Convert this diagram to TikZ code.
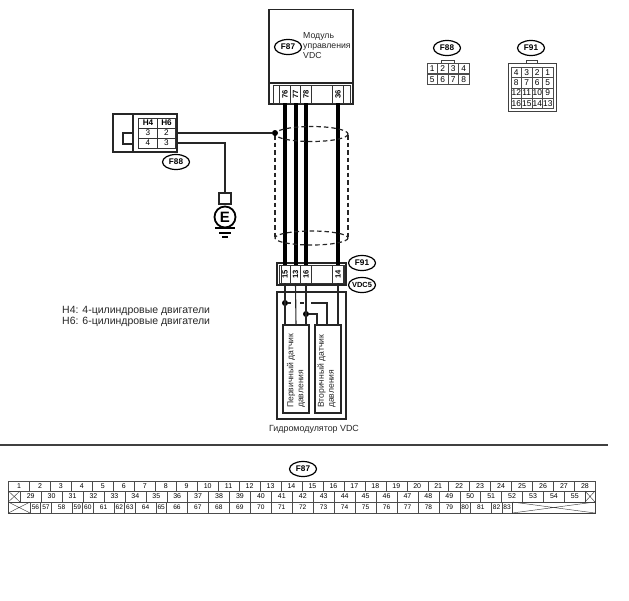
\documentclass[tikz,border=0pt]{standalone}
\usepackage{fontspec}
\setmainfont{Liberation Sans}
\usetikzlibrary{shapes.geometric,calc}
\tikzset{
  x=1pt,y=-1pt,
  boxline/.style={draw=black!85,line width=1.1pt},
  oval/.style={ellipse,draw=black,line width=1.2pt,fill=white,inner sep=0pt,minimum width=27pt,minimum height=15pt,font=\fontsize{8.2}{9}\selectfont\bfseries},
  pinbox/.style={draw=black!80,line width=.6pt,minimum width=18pt,minimum height=10.5pt,inner sep=0pt,font=\fontsize{7.6}{8}\selectfont\bfseries,rotate=90},
  thickwire/.style={line width=4pt,black},
  thinwire/.style={line width=1.1pt,black!85},
  shield/.style={line width=1.2pt,dash pattern=on 4.5pt off 3pt,black!85},
  tcell/.style={draw=black!70,line width=.45pt,minimum height=10.5pt,inner sep=0pt,font=\fontsize{7}{8}\selectfont,anchor=west},
  gcell/.style={draw=black!70,line width=.45pt,minimum width=10.5pt,minimum height=10.25pt,inner sep=0pt,font=\fontsize{8.4}{9}\selectfont},
  hcell/.style={draw=black!80,line width=.6pt,minimum width=18.5pt,minimum height=10pt,inner sep=0pt,font=\fontsize{8.2}{9}\selectfont},
  txt/.style={inner sep=0pt,font=\fontsize{8.7}{10}\selectfont,text=black!85},
  dotn/.style={circle,fill=black,inner sep=0pt,minimum size=6pt},
}
\begin{document}
\begin{tikzpicture}
\useasboundingbox (0,0) rectangle (629,600);

% VDC module
\draw[boxline] (269,9.5) rectangle (353,104);
\draw[boxline] (269,83) -- (353,83);
\draw[line width=.6pt,black!80] (273,85) rectangle (350,103);
\node[oval] (f87a) at (288,47) {F87};
\node[txt,anchor=west,align=left] (modtxt) at (303,46) {Модуль\\управления\\VDC};
\node[pinbox] (p76) at (285,94) {76};
\node[pinbox] (p77) at (295.5,94) {77};
\node[pinbox] (p78) at (306,94) {78};
\node[pinbox] (p36) at (338,94) {36};

% F91 connector
\draw[boxline] (277,263) rectangle (346,285);
\draw[line width=.6pt,black!80] (281,265) rectangle (344,283);
\node[pinbox] (q15) at (285,274) {15};
\node[pinbox] (q13) at (295.5,274) {13};
\node[pinbox] (q16) at (306,274) {16};
\node[pinbox] (q14) at (338,274) {14};
\node[oval] (f91a) at (362,263) {F91};
\node[oval,inner xsep=-4pt,font=\fontsize{7.4}{8}\selectfont\bfseries] (vdc5) at (362,285) {VDC5};

% thick harness
\draw[thickwire] (p76.west) -- (q15.east);
\draw[thickwire] (p77.west) -- (q13.east);
\draw[thickwire] (p78.west) -- (q16.east);
\draw[thickwire] (p36.west) -- (q14.east);

% shield
\draw[shield] (311.5,134) ellipse [x radius=36.5,y radius=7.5];
\draw[shield] (311.5,238) ellipse [x radius=36.5,y radius=7];
\draw[shield] (275,135) -- (275,238);
\draw[shield] (348,135) -- (348,238);

% left connector
\draw[boxline] (113,114) rectangle (177,152);
\draw[boxline] (133,114) -- (133,152);
\draw[boxline] (123,133) rectangle (133,144);
\node[hcell,font=\fontsize{8.2}{9}\selectfont\bfseries] (h4) at (148,123) {H4};
\node[hcell,font=\fontsize{8.2}{9}\selectfont\bfseries] (h6) at (166.5,123) {H6};
\node[hcell] (c3a) at (148,133) {3};
\node[hcell] (c2) at (166.5,133) {2};
\node[hcell] (c4) at (148,143) {4};
\node[hcell] (c3b) at (166.5,143) {3};
\node[oval] (f88a) at (176,162) {F88};

% ground
\node[dotn] (sdot) at (275,133) {};
\draw[line width=1.3pt,black!85] (c2.east) -- (sdot);
\node[draw=black!85,line width=1.2pt,minimum width=12pt,minimum height=11pt,inner sep=0pt] (gbox) at (225,198.5) {};
\node[circle,draw=black,line width=1.8pt,minimum size=21pt,inner sep=0pt,font=\fontsize{15}{15}\selectfont\bfseries] (gnd) at (225,217) {E};
\draw[line width=1.3pt,black!85] (c3b.east) -| (gbox.north);
\draw[line width=1.1pt,black] (215,228) -- (235,228);
\draw[line width=1.1pt,black] (219,233) -- (231,233);
\draw[line width=1.1pt,black] (222,237) -- (228,237);

% hydromodulator
\draw[boxline] (277,292) rectangle (346,419);
\node[boxline,minimum width=26pt,minimum height=88pt,inner sep=0pt] (s1) at (296,369) {};
\node[boxline,minimum width=26pt,minimum height=88pt,inner sep=0pt] (s2) at (328,369) {};
\node[txt,rotate=90,anchor=west,align=left,font=\fontsize{8.6}{10}\selectfont] (s1t) at (296,408) {Первичный датчик\\давления};
\node[txt,rotate=90,anchor=west,align=left,font=\fontsize{8.6}{10}\selectfont] (s2t) at (326.5,408) {Вторичный датчик\\давления};
\node[txt,font=\fontsize{8.9}{10}\selectfont] (gidro) at (314,429) {Гидромодулятор VDC};

% sensor wires
\coordinate (s1a) at (285,325);
\coordinate (s1b) at (296,325);
\coordinate (s1c) at (306,325);
\coordinate (s2a) at (317,325);
\coordinate (s2b) at (327,325);
\coordinate (s2c) at (338,325);
\node[dotn] (d1) at (285,303) {};
\node[dotn] (d2) at (306,314) {};
\draw[thinwire] (q15.west) -- (s1a);
\draw[thinwire] (q13.west) -- (s1b);
\draw[thinwire] (q16.west) -- (s1c);
\draw[thinwire] (q14.west) -- (s2c);
\draw[thinwire] (d1) -- (291,303);
\draw[thinwire] (300,303) -- (304,303);
\draw[thinwire] (311,303) -| (s2b);
\draw[thinwire] (d2) -| (s2a);

% legend
\node[txt,anchor=west,font=\fontsize{10.5}{11}\selectfont,align=left] (legend) at (62,316) {H4: 4-цилиндровые двигатели\\H6: 6-цилиндровые двигатели};

% F88 right pinout
\node[oval] (f88b) at (447,48) {F88};
\draw[line width=.5pt,black!75] (441,63) -- (441,60.5) -- (454,60.5) -- (454,63);
\foreach \t [count=\i from 0] in {1,2,3,4}
  \node[gcell] (a\t) at ({432.25+10.5*\i},68.5) {\t};
\foreach \t [count=\i from 0] in {5,6,7,8}
  \node[gcell] (a\t) at ({432.25+10.5*\i},79.5) {\t};

% F91 right pinout
\node[oval] (f91b) at (531,48) {F91};
\draw[line width=.5pt,black!75] (526,63) -- (526,60.5) -- (537,60.5) -- (537,63);
\draw[line width=.6pt,black!75] (508,63) rectangle (556,111);
\foreach \t [count=\i from 0] in {4,3,2,1}
  \node[gcell] (b\t) at ({516.25+10.5*\i},72.5) {\t};
\foreach \t [count=\i from 0] in {8,7,6,5}
  \node[gcell] (b\t) at ({516.25+10.5*\i},82.75) {\t};
\foreach \t [count=\i from 0] in {12,11,10,9}
  \node[gcell] (b\t) at ({516.25+10.5*\i},93) {\t};
\foreach \t [count=\i from 0] in {16,15,14,13}
  \node[gcell] (b\t) at ({516.25+10.5*\i},103.25) {\t};

% separator
\draw[line width=1.4pt,black!75] (0,445) -- (608,445);

% F87 table
\node[oval] (f87b) at (303,469) {F87};
\foreach \n in {1,...,28}
  \node[tcell,minimum width=20.96pt] (r\n) at ({8.3+20.96*(\n-1)},486) {\n};
\draw[line width=.45pt,black!75] (8.3,491) rectangle (20,502);
\draw[line width=.45pt,black!75] (8.3,491) -- (20,502) (8.3,502) -- (20,491);
\foreach \n [count=\i from 0] in {29,...,55}
  \node[tcell,minimum width=20.93pt] (r\n) at ({20+20.93*\i},496.5) {\n};
\draw[line width=.45pt,black!75] (585,491) rectangle (595,502);
\draw[line width=.45pt,black!75] (585,491) -- (595,502) (585,502) -- (595,491);
\draw[line width=.45pt,black!75] (8.3,502) rectangle (30,513);
\draw[line width=.45pt,black!75] (8.3,502) -- (30,513) (8.3,513) -- (30,502);
\newdimen\xc
\xc=30pt
\foreach \n/\w in {56/10.48,57/10.48,58/20.96,59/10.48,60/10.48,61/20.96,62/10.48,63/10.48,64/20.96,65/10.48,66/20.96,
  67/20.96,68/20.96,69/20.96,70/20.96,71/20.96,72/20.96,73/20.96,74/20.96,75/20.96,76/20.96,77/20.96,78/20.96,79/20.96,
  80/10.48,81/20.96,82/10.48,83/10.48}{
  \node[tcell,minimum width=\w pt,font=\fontsize{6.6}{7}\selectfont] (r\n) at (\the\xc,507.5) {\n};
  \global\advance\xc by \w pt
}
\draw[line width=.45pt,black!75] (r83.south east) rectangle (595,502);
\draw[line width=.45pt,black!75] (r83.south east) -- (595,502) (r83.north east) -- (595,513);
\end{tikzpicture}
\end{document}
